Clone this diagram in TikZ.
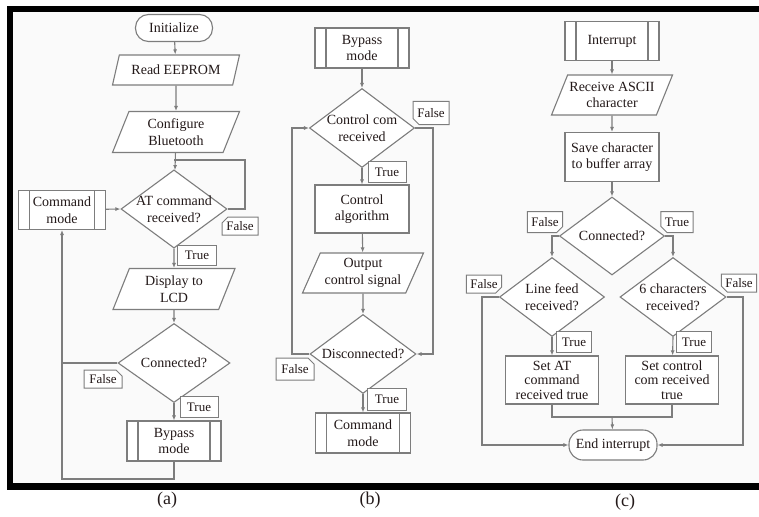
\documentclass[tikz,border=0pt]{standalone}
\usepackage{fontspec}
\setmainfont{Liberation Serif}
\usetikzlibrary{shapes.geometric,shapes.misc,arrows.meta}
\definecolor{linegray}{RGB}{125,125,125}
\definecolor{panelbg}{RGB}{250,250,250}
\definecolor{inktext}{RGB}{35,25,25}
\tikzset{
	box/.style={draw=linegray, line width=1.1pt, fill=white, text=inktext, font=\fontsize{14}{16.5}\selectfont, align=center, inner sep=1pt},
	terminal/.style={box, rectangle, rounded corners=13pt},
	io/.style={box, trapezium, trapezium left angle=60, trapezium right angle=120, trapezium stretches body},
	decision/.style={box, diamond, inner sep=-6pt},
	process/.style={box, rectangle},
	subproc/.style={box, rectangle, path picture={
		\draw[linegray, line width=1.1pt] ([xshift=11pt]path picture bounding box.north west) -- ([xshift=11pt]path picture bounding box.south west);
		\draw[linegray, line width=1.1pt] ([xshift=-11pt]path picture bounding box.north east) -- ([xshift=-11pt]path picture bounding box.south east);}},
	tag/.style={draw=linegray, line width=1pt, fill=white, text=inktext, font=\fontsize{13}{15}\selectfont, inner sep=1pt},
	cuttag/.style={tag, chamfered rectangle, chamfered rectangle xsep=3pt, chamfered rectangle ysep=3pt, chamfered rectangle corners=#1},
	flow/.style={draw=linegray, line width=1.1pt, -{Latex[length=5pt,width=4pt]}},
	link/.style={draw=linegray, line width=1.1pt},
	caption/.style={font=\fontsize{18}{20}\selectfont, text=inktext},
}
\begin{document}
\begin{tikzpicture}[x=1pt, y=-1pt]
		\useasboundingbox (0,0) rectangle (759,516);
		\fill[black] (7,6) rectangle (759,490);
		\fill[panelbg] (13,12) rectangle (759,483);

		\node[terminal, minimum width=77pt, minimum height=27pt] (init) at (174,28) {Initialize};
		\node[io, minimum width=127pt, minimum height=30pt] (eeprom) at (176,70) {Read EEPROM};
		\node[io, minimum width=127pt, minimum height=41pt] (btconf) at (176,132) {Configure\\Bluetooth};
		\node[decision, minimum width=106pt, minimum height=78pt] (atcmd) at (174,209) {AT command\\received?};
		\node[subproc, minimum width=87pt, minimum height=39pt] (cmdmode) at (62,210) {Command\\mode};
		\node[io, minimum width=122pt, minimum height=41pt] (lcd) at (174,289) {Display to\\LCD};
		\node[decision, minimum width=112pt, minimum height=79pt] (conn) at (174,363) {Connected?};
		\node[subproc, minimum width=94pt, minimum height=40pt] (bypass) at (174,441) {Bypass\\mode};
		\coordinate (aloop) at (62,479);
		\coordinate (atback) at (245,160);

		\draw[flow] (init) -- (eeprom);
		\draw[flow] (eeprom) -- (btconf);
		\draw[flow] (btconf) -- (atcmd);
		\draw[link] (atcmd.east) -| (atback) -- (atback -| atcmd.north);
		\draw[flow] (cmdmode) -- (atcmd.west);
		\draw[flow] (atcmd.south) -- (lcd);
		\draw[flow] (lcd) -- (conn);
		\draw[flow] (conn.south) -- (bypass);
		\draw[flow] (bypass.south) |- (aloop) -- (cmdmode.south);
		\draw[link] (conn.west) -- (conn.west -| aloop);

		\node[cuttag=north west, minimum width=36pt, minimum height=18pt] (afalse1) at (240,226) {False};
		\node[tag, minimum width=39pt, minimum height=20pt] (atrue1) at (197,255) {True};
		\node[cuttag=north east, minimum width=38pt, minimum height=18pt] (afalse2) at (103,379) {False};
		\node[tag, minimum width=38pt, minimum height=21pt] (atrue2) at (199,407) {True};

		\node[subproc, minimum width=94pt, minimum height=40pt] (bypassb) at (362,48) {Bypass\\mode};
		\node[decision, minimum width=105pt, minimum height=79pt] (ctrlcom) at (362,128) {Control com\\received};
		\node[process, minimum width=94pt, minimum height=48pt] (ctrlalg) at (362,209) {Control\\algorithm};
		\node[io, minimum width=121pt, minimum height=40pt] (outsig) at (363,273) {Output\\control signal};
		\node[decision, minimum width=106pt, minimum height=79pt] (disc) at (363,354) {Disconnected?};
		\node[subproc, minimum width=95pt, minimum height=40pt] (cmdmodeb) at (363,433) {Command\\mode};
		\coordinate (bright) at (433,128);
		\coordinate (bleft) at (292,354);

		\draw[flow] (bypassb) -- (ctrlcom);
		\draw[flow] (ctrlcom.south) -- (ctrlalg);
		\draw[flow] (ctrlalg) -- (outsig);
		\draw[flow] (outsig) -- (disc);
		\draw[flow] (disc.south) -- (cmdmodeb);
		\draw[flow] (ctrlcom.east) -- (bright) |- (disc.east);
		\draw[flow] (disc.west) -- (bleft) |- (ctrlcom.west);

		\node[cuttag=south west, minimum width=36pt, minimum height=23pt] (bfalse1) at (431,113) {False};
		\node[tag, minimum width=38pt, minimum height=21pt] (btrue1) at (387,172) {True};
		\node[cuttag=north east, minimum width=38pt, minimum height=22pt] (bfalse2) at (295,369) {False};
		\node[tag, minimum width=39pt, minimum height=22pt] (btrue2) at (387,399) {True};

		\node[subproc, minimum width=94pt, minimum height=39pt] (intr) at (612,41) {Interrupt};
		\node[io, minimum width=121pt, minimum height=40pt] (recv) at (612,95) {Receive ASCII\\character};
		\node[process, minimum width=94pt, minimum height=49pt] (save) at (612,157) {Save character\\to buffer array};
		\node[decision, minimum width=105pt, minimum height=78pt] (connc) at (612,236) {Connected?};
		\node[decision, minimum width=105pt, minimum height=79pt] (linefeed) at (552,297) {Line feed\\received?};
		\node[decision, minimum width=106pt, minimum height=79pt] (sixch) at (673,297) {6 characters\\received?};
		\node[process, minimum width=93pt, minimum height=48pt, font=\fontsize{14}{14.5}\selectfont] (setat) at (552,380) {Set AT\\command\\received true};
		\node[process, minimum width=93pt, minimum height=48pt, font=\fontsize{14}{14.5}\selectfont] (setctl) at (672,380) {Set control\\com received\\true};
		\node[terminal, minimum width=88pt, minimum height=30pt, rounded corners=14pt] (endint) at (613,445) {End interrupt};
		\coordinate (merge) at (612,417);
		\coordinate (cleft) at (482,297);
		\coordinate (cright) at (743,297);

		\draw[flow] (intr) -- (recv);
		\draw[flow] (recv) -- (save);
		\draw[flow] (save) -- (connc);
		\draw[flow] (connc.west) -| (linefeed.north);
		\draw[flow] (connc.east) -| (sixch.north);
		\draw[flow] (linefeed.south) -- (setat);
		\draw[flow] (sixch.south) -- (setctl);
		\draw[link] (setat.south) |- (merge);
		\draw[link] (setctl.south) |- (merge);
		\draw[flow] (merge) -- (endint);
		\draw[flow] (linefeed.west) -- (cleft) |- (endint.west);
		\draw[flow] (sixch.east) -- (cright) |- (endint.east);

		\node[cuttag=south east, minimum width=34pt, minimum height=21pt] (cfalse1) at (545,222) {False};
		\node[cuttag=south west, minimum width=31pt, minimum height=21pt] (ctrue1) at (677,222) {True};
		\node[cuttag=south east, minimum width=35pt, minimum height=18pt] (cfalse2) at (484,284) {False};
		\node[cuttag=south west, minimum width=34pt, minimum height=18pt] (cfalse3) at (739,283) {False};
		\node[tag, minimum width=35pt, minimum height=21pt] (ctrue2) at (574,342) {True};
		\node[tag, minimum width=35pt, minimum height=21pt] (ctrue3) at (694,342) {True};

		\node[caption] (capa) at (167,500) {(a)};
		\node[caption] (capb) at (370,500) {(b)};
		\node[caption] (capc) at (625,502) {(c)};
	\end{tikzpicture}
\end{document}
